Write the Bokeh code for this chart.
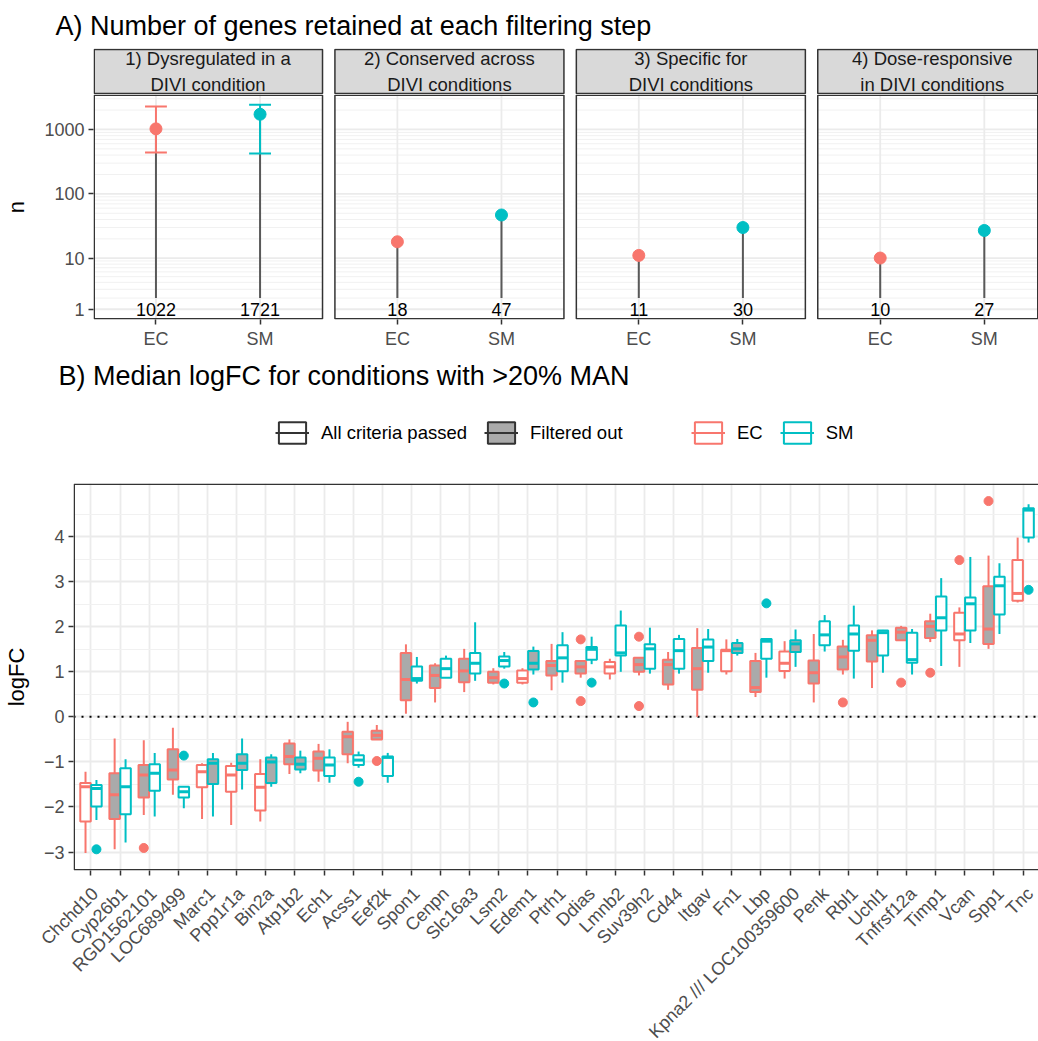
import numpy as np
import math
from bokeh.plotting import figure
from bokeh.models import Range1d, FixedTicker, Title, Legend, LegendItem, Span
from bokeh.layouts import column
from bokeh.core.properties import value
from bokeh.embed import file_html
from bokeh.resources import INLINE

FONT = "Liberation Sans"
EC_COL = "#F8766D"
SM_COL = "#00BFC4"
GRID = "#EBEBEB"
GRID_MINOR = "#F1F1F1"
BORDER = "#333333"
TICKTXT = "#4D4D4D"
FILL_OUT = "#AAAAAA"

# ---------------- Panel A data ----------------
steps = ["1) Dysregulated in a\nDIVI condition",
         "2) Conserved across\nDIVI conditions",
         "3) Specific for\nDIVI conditions",
         "4) Dose-responsive\nin DIVI conditions"]
groups = ["EC", "SM"]
n_EC = [1022, 18, 11, 10]
n_SM = [1721, 47, 30, 27]
err_step = [0]
err_EC_low = [440]
err_EC_high = [2280]
err_SM_low = [425]
err_SM_high = [2420]
a_yticks = [1, 10, 100, 1000]

# ---------------- Panel B data ----------------
genes = ["Chchd10", "Cyp26b1", "RGD1562101", "LOC689499", "Marc1", "Ppp1r1a",
         "Bin2a", "Atp1b2", "Ech1", "Acss1", "Eef2k", "Spon1", "Cenpn", "Slc16a3",
         "Lsm2", "Edem1", "Ptrh1", "Ddias", "Lmnb2", "Suv39h2", "Cd44", "Itgav",
         "Fn1", "Lbp", "Kpna2 /// LOC100359600", "Penk", "Rbl1", "Uchl1",
         "Tnfrsf12a", "Timp1", "Vcan", "Spp1", "Tnc"]

EC_lower = [-3.02, -2.94, -2.18, -1.73, -2.27, -2.40, -2.32, -1.27, -1.44, -1.03, -0.50,
            0.07, 0.32, 0.55, 0.72, 0.72, 0.59, 0.87, 0.83, 0.92, 0.60, 0.00,
            0.94, 0.44, 0.85, 0.32, 0.94, 0.64, 1.70, 1.66, 1.11, 1.51, 2.54]
EC_q1 = [-2.32, -2.27, -1.79, -1.39, -1.56, -1.66, -2.08, -1.05, -1.19, -0.83, -0.50,
         0.37, 0.64, 0.77, 0.76, 0.76, 0.92, 0.96, 0.96, 1.00, 0.72, 0.60,
         1.01, 0.55, 1.02, 0.74, 1.05, 1.23, 1.70, 1.75, 1.70, 1.62, 2.58]
EC_median = [-1.55, -1.73, -1.29, -1.18, -1.22, -1.29, -1.56, -0.88, -0.92, -0.44, -0.41,
             0.83, 0.92, 1.02, 0.87, 0.85, 1.14, 1.11, 1.11, 1.16, 1.16, 1.07,
             1.47, 0.65, 1.19, 0.98, 1.33, 1.70, 1.88, 2.01, 1.84, 1.95, 2.74]
EC_q3 = [-1.47, -1.25, -1.07, -0.72, -1.07, -1.09, -1.27, -0.59, -0.77, -0.33, -0.31,
         1.42, 1.14, 1.29, 1.00, 1.03, 1.24, 1.24, 1.22, 1.31, 1.27, 1.53,
         1.49, 1.24, 1.45, 1.25, 1.56, 1.81, 1.98, 2.12, 2.31, 2.90, 3.48]
EC_upper = [-1.22, -0.48, -0.52, -0.24, -1.03, -1.02, -0.94, -0.50, -0.60, -0.11, -0.18,
            1.61, 1.19, 1.51, 1.08, 1.08, 1.62, 1.24, 1.29, 1.31, 1.44, 1.97,
            1.72, 1.42, 1.68, 1.84, 1.71, 1.92, 2.02, 2.29, 2.43, 3.58, 3.98]
EC_filtered = [0, 1, 1, 1, 0, 0, 0, 1, 1, 1, 1,
               1, 1, 1, 1, 0, 1, 1, 0, 1, 1, 1,
               0, 1, 0, 1, 1, 1, 1, 1, 0, 1, 0]
EC_out_gene = ["RGD1562101", "Eef2k", "Ddias", "Ddias", "Suv39h2", "Suv39h2",
               "Rbl1", "Tnfrsf12a", "Timp1", "Vcan", "Spp1"]
EC_out_val = [-2.91, -0.98, 1.72, 0.35, 1.78, 0.24, 0.32, 0.76, 0.98, 3.48, 4.79]

SM_lower = [-2.29, -2.79, -2.21, -2.03, -2.21, -1.61, -1.55, -1.25, -1.46, -1.13, -1.46,
            0.74, 0.87, 0.80, 1.07, 0.94, 0.76, 1.17, 1.00, 0.96, 0.96, 0.98,
            1.36, 0.87, 1.11, 1.45, 0.85, 0.98, 0.94, 1.13, 1.64, 1.84, 3.87]
SM_q1 = [-1.99, -2.16, -1.64, -1.79, -1.49, -1.18, -1.47, -1.17, -1.31, -1.07, -1.31,
         0.80, 0.87, 0.96, 1.12, 1.05, 1.01, 1.27, 1.36, 1.07, 1.07, 1.24,
         1.42, 1.29, 1.44, 1.59, 1.47, 1.36, 1.20, 1.92, 1.92, 2.27, 3.98]
SM_median = [-1.59, -1.55, -1.25, -1.66, -1.03, -1.03, -1.00, -1.05, -1.07, -0.96, -0.90,
             0.85, 1.07, 1.19, 1.25, 1.19, 1.31, 1.50, 1.42, 1.51, 1.47, 1.55,
             1.51, 1.68, 1.62, 1.82, 1.84, 1.87, 1.27, 2.20, 2.51, 2.91, 4.59]
SM_q3 = [-1.51, -1.14, -1.05, -1.55, -0.94, -0.83, -0.90, -0.90, -0.90, -0.85, -0.88,
         1.12, 1.29, 1.42, 1.34, 1.46, 1.59, 1.55, 2.03, 1.61, 1.73, 1.72,
         1.64, 1.73, 1.70, 2.12, 2.03, 1.92, 1.87, 2.67, 2.65, 3.11, 4.63]
SM_upper = [-1.40, -0.94, -0.80, -1.55, -0.80, -0.48, -0.83, -0.75, -0.72, -0.77, -0.80,
            1.33, 1.36, 2.10, 1.44, 1.56, 1.88, 1.78, 2.36, 1.98, 1.82, 1.95,
            1.73, 1.75, 1.94, 2.26, 2.47, 1.93, 1.95, 3.08, 3.55, 3.41, 4.72]
SM_filtered = [0, 0, 0, 0, 1, 1, 1, 1, 0, 0, 0,
               0, 0, 0, 0, 1, 0, 0, 0, 0, 0, 0,
               1, 0, 1, 0, 0, 0, 0, 0, 0, 0, 0]
SM_out_gene = ["Chchd10", "LOC689499", "Acss1", "Lsm2", "Edem1", "Ddias", "Lbp", "Tnc"]
SM_out_val = [-2.94, -0.86, -1.44, 0.74, 0.32, 0.76, 2.52, 2.82]

b_yticks = [-3, -2, -1, 0, 1, 2, 3, 4]
legend_fill_labels = ["All criteria passed", "Filtered out"]


def plog(v):
    """pseudo-log (base 10) transform used by the n axis"""
    return np.arcsinh(np.asarray(v, dtype=float) / 2.0) / np.log(10.0)


def no_align(p):
    try:
        p.frame_align = False
    except Exception:
        pass
    return p


def style_axis(ax, size="18px"):
    ax.major_label_text_font = FONT
    ax.major_label_text_font_size = size
    ax.major_label_text_color = TICKTXT
    ax.major_tick_line_color = BORDER
    ax.major_tick_line_width = 1.5
    ax.major_tick_out = 5
    ax.major_tick_in = 0
    ax.minor_tick_line_color = None
    ax.axis_line_color = None
    ax.axis_label_text_font = FONT
    ax.axis_label_text_font_size = "22px"
    ax.axis_label_text_font_style = "normal"
    ax.axis_label_text_color = "black"
    ax.major_label_standoff = 4


W = 1038
COMMON = dict(output_backend="svg", toolbar_location=None, min_border_right=0)

# ======================= Panel A =======================
PX_A = 104.1
GAP_U = 12.4 / PX_A
D = 2.2 + GAP_U
A_LEFT = 93
A_FRAME_W = W - A_LEFT
xa_end = 0.4 + A_FRAME_W / PX_A
xa = Range1d(0.4, xa_end)
eps_xa = 0.75 / PX_A

nf = len(steps)
facet_left = [max(0.4 + k * D, 0.4 + eps_xa) for k in range(nf)]
facet_right = [min(2.6 + k * D, xa_end - eps_xa) for k in range(nf)]
facet_center = [1.5 + k * D for k in range(nf)]
pos_EC = [round(1 + k * D, 4) for k in range(nf)]
pos_SM = [round(2 + k * D, 4) for k in range(nf)]

# strip figure (with main title A)
ps = no_align(figure(width=W, height=94, x_range=xa, y_range=Range1d(-0.025, 1.025),
                     x_axis_location=None, y_axis_location=None, title_location=None,
                     min_border_left=A_LEFT, min_border_top=48, min_border_bottom=0, **COMMON))
ps.xgrid.visible = False
ps.ygrid.visible = False
ps.outline_line_color = None
ps.quad(left=facet_left, right=facet_right, bottom=0, top=1,
        fill_color="#D9D9D9", line_color=BORDER, line_width=1.5)
ps.text(x=facet_center, y=0.5, text=steps, text_font=value(FONT), text_font_size="18.5px",
        text_align="center", text_baseline="middle", text_color="#1A1A1A", text_line_height=1.25)
ps.add_layout(Title(text="A) Number of genes retained at each filtering step", text_font=FONT,
                    text_font_size="27px", text_font_style="normal", text_color="black",
                    align="left", offset=-38, standoff=15), "above")

# lollipop panels
ya_lo = float(plog(1))
ya_hi = float(plog(max(err_EC_high + err_SM_high + n_EC + n_SM)))
pad_a = 0.05 * (ya_hi - ya_lo)
ya = Range1d(ya_lo - pad_a, ya_hi + pad_a)
A_FRAME_H = 225
eps_ya = 0.75 * (ya.end - ya.start) / A_FRAME_H

pa = no_align(figure(width=W, height=A_FRAME_H + 34, x_range=xa, y_range=ya, title_location=None,
                     min_border_left=A_LEFT, min_border_top=0, min_border_bottom=34, **COMMON))
pa.xgrid.visible = False
pa.ygrid.visible = False
pa.outline_line_color = None

# manual per-facet grids
minor_vals = [k * 10 ** j for j in range(0, 4) for k in range(2, 10)
              if plog(k * 10 ** j) < ya.end]
for vals, col, lw in [(minor_vals, GRID_MINOR, 1), (a_yticks, GRID, 1.8)]:
    gx0, gx1, gy = [], [], []
    for k in range(nf):
        for v in vals:
            gx0.append(facet_left[k]); gx1.append(facet_right[k]); gy.append(float(plog(v)))
    pa.segment(x0=gx0, x1=gx1, y0=gy, y1=gy, line_color=col, line_width=lw)
vx = pos_EC + pos_SM
pa.segment(x0=vx, x1=vx, y0=ya.start, y1=ya.end, line_color=GRID, line_width=1.8)

# lollipop stems
stem_base = float(plog(2))
pa.segment(x0=pos_EC, x1=pos_EC, y0=stem_base, y1=plog(n_EC), line_color="#595959", line_width=2)
pa.segment(x0=pos_SM, x1=pos_SM, y0=stem_base, y1=plog(n_SM), line_color="#595959", line_width=2)

# error bars
cap = 0.105
for pos, lo, hi, col in [(pos_EC, err_EC_low, err_EC_high, EC_COL),
                         (pos_SM, err_SM_low, err_SM_high, SM_COL)]:
    ex = [pos[s] for s in err_step]
    pa.segment(x0=ex, x1=ex, y0=plog(lo), y1=plog(hi), line_color=col, line_width=2)
    pa.segment(x0=[x - cap for x in ex], x1=[x + cap for x in ex], y0=plog(lo), y1=plog(lo),
               line_color=col, line_width=2)
    pa.segment(x0=[x - cap for x in ex], x1=[x + cap for x in ex], y0=plog(hi), y1=plog(hi),
               line_color=col, line_width=2)

pa.scatter(x=pos_EC, y=plog(n_EC), size=12, fill_color=EC_COL, line_color=EC_COL)
pa.scatter(x=pos_SM, y=plog(n_SM), size=12, fill_color=SM_COL, line_color=SM_COL)

pa.text(x=pos_EC + pos_SM, y=ya_lo, text=[str(v) for v in n_EC + n_SM], text_font=value(FONT),
        text_font_size="18px", text_align="center", text_baseline="middle", text_color="black")

# panel borders
pa.quad(left=facet_left, right=facet_right, bottom=ya.start + eps_ya, top=ya.end - eps_ya,
        fill_alpha=0, line_color=BORDER, line_width=1.5)

pa.xaxis.ticker = FixedTicker(ticks=pos_EC + pos_SM)
ov = {}
for p_ in pos_EC:
    ov[p_] = groups[0]
for p_ in pos_SM:
    ov[p_] = groups[1]
pa.xaxis.major_label_overrides = ov
a_tick_pos = [round(float(plog(v)), 6) for v in a_yticks]
pa.yaxis.ticker = FixedTicker(ticks=a_tick_pos)
pa.yaxis.major_label_overrides = {tp: str(v) for tp, v in zip(a_tick_pos, a_yticks)}
pa.yaxis.axis_label = "n"
style_axis(pa.xaxis[0])
style_axis(pa.yaxis[0])
pa.yaxis.axis_label_standoff = 12

# ======================= Panel B title + legend =======================
B_LEFT = 70
B_FRAME_W = W - B_LEFT
L_TOP = 42
L_FRAME_H = 76
pl = no_align(figure(width=W, height=L_TOP + L_FRAME_H, x_range=Range1d(0, 1), y_range=Range1d(0, 1),
                     x_axis_location=None, y_axis_location=None, title_location=None,
                     min_border_left=B_LEFT, min_border_top=L_TOP, min_border_bottom=0, **COMMON))
pl.xgrid.visible = False
pl.ygrid.visible = False
pl.outline_line_color = None
pl.add_layout(Title(text="B) Median logFC for conditions with >20% MAN", text_font=FONT,
                    text_font_size="27px", text_font_style="normal", text_color="black",
                    align="left", offset=-12, standoff=9), "above")

# legend proxies (placed outside the visible ranges; only their legend keys show)
def key(fig, fill, line):
    rb = fig.quad(left=[-3], right=[-2], top=[-2], bottom=[-3], fill_color=fill,
                  line_color=line, line_width=2)
    rm = fig.segment(x0=[-3], x1=[-2], y0=[-3], y1=[-3], line_color=line, line_width=2)
    return [rb, rm]

legend_kw = dict(orientation="horizontal", glyph_width=34, glyph_height=27, label_standoff=12,
                 spacing=17, padding=4, margin=0, label_text_font=FONT,
                 label_text_font_size="18.5px", label_text_color="black",
                 border_line_color=None, background_fill_alpha=0)
leg1 = Legend(items=[LegendItem(label=legend_fill_labels[0], renderers=key(pl, "white", BORDER)),
                     LegendItem(label=legend_fill_labels[1], renderers=key(pl, FILL_OUT, BORDER))],
              location=(205, 25), **legend_kw)
leg2 = Legend(items=[LegendItem(label=groups[0], renderers=key(pl, "white", EC_COL)),
                     LegendItem(label=groups[1], renderers=key(pl, "white", SM_COL))],
              location=(621, 25), **legend_kw)
pl.add_layout(leg1)
pl.add_layout(leg2)

# ======================= Panel B boxplots =======================
ng = len(genes)
gx = [i + 1 for i in range(ng)]
off = 0.1875
bw = 0.36
x_EC = [x - off for x in gx]
x_SM = [x + off for x in gx]

all_b = EC_lower + EC_upper + SM_lower + SM_upper + EC_out_val + SM_out_val
yb_lo, yb_hi = min(all_b), max(all_b)
pad_b = 0.05 * (yb_hi - yb_lo)
yb = Range1d(yb_lo - pad_b, yb_hi + pad_b)
B_FRAME_H = 387
B_TOP = 12
B_BOTTOM = 10
PX_B = 29.22
xb = Range1d(0.4, 0.4 + B_FRAME_W / PX_B)
eps_yb = 0.75 * (yb.end - yb.start) / B_FRAME_H
eps_xb = 0.75 / PX_B

pb = no_align(figure(width=W, height=B_TOP + B_FRAME_H + B_BOTTOM, x_range=xb, y_range=yb,
                     title_location=None, min_border_left=B_LEFT, min_border_top=B_TOP,
                     min_border_bottom=B_BOTTOM, **COMMON))
pb.outline_line_color = None
xtick = FixedTicker(ticks=gx)
ytick = FixedTicker(ticks=b_yticks, minor_ticks=[t + 0.5 for t in range(-4, 5)])
pb.xaxis.ticker = xtick
pb.xgrid.ticker = xtick
pb.yaxis.ticker = ytick
pb.ygrid.ticker = ytick
pb.xgrid.grid_line_color = GRID
pb.xgrid.grid_line_width = 1.8
pb.ygrid.grid_line_color = GRID
pb.ygrid.grid_line_width = 1.8
pb.ygrid.minor_grid_line_color = GRID_MINOR
pb.ygrid.minor_grid_line_width = 1.2
# gene names are drawn (rotated, ggplot-style anchoring) in the label figure below
pb.xaxis.major_label_overrides = {x: "" for x in gx}
pb.yaxis.major_label_overrides = {t: (("\u2212" + str(-t)) if t < 0 else str(t)) for t in b_yticks}
pb.yaxis.axis_label = "logFC"
style_axis(pb.xaxis[0], "18px")
style_axis(pb.yaxis[0], "18px")
pb.xaxis.major_label_standoff = 0
pb.yaxis.axis_label_standoff = 12

pb.add_layout(Span(location=0, dimension="width", line_color="black", line_width=2,
                   line_dash="2 6", level="underlay"))

for xs, lo, q1, md, q3, hi, filt, col in [
        (x_EC, EC_lower, EC_q1, EC_median, EC_q3, EC_upper, EC_filtered, EC_COL),
        (x_SM, SM_lower, SM_q1, SM_median, SM_q3, SM_upper, SM_filtered, SM_COL)]:
    pb.segment(x0=xs, x1=xs, y0=lo, y1=hi, line_color=col, line_width=2)
    pb.vbar(x=xs, width=bw, bottom=q1, top=q3,
            fill_color=[FILL_OUT if f else "white" for f in filt], line_color=col, line_width=2)
    pb.segment(x0=[x - bw / 2 for x in xs], x1=[x + bw / 2 for x in xs], y0=md, y1=md,
               line_color=col, line_width=3)

pb.scatter(x=[gx[genes.index(g)] - off for g in EC_out_gene], y=EC_out_val, size=9,
           fill_color=EC_COL, line_color=EC_COL)
pb.scatter(x=[gx[genes.index(g)] + off for g in SM_out_gene], y=SM_out_val, size=9,
           fill_color=SM_COL, line_color=SM_COL)

# panel border (right side falls outside the visible frame)
pb.quad(left=xb.start + eps_xb, right=xb.end + 1, bottom=yb.start + eps_yb, top=yb.end - eps_yb,
        fill_alpha=0, line_color=BORDER, line_width=1.5)

# ======================= gene-name labels (x axis text of panel B) =======================
X_H = 1041 - (94 + A_FRAME_H + 34 + L_TOP + L_FRAME_H + B_TOP + B_FRAME_H + B_BOTTOM)
pxl = no_align(figure(width=W, height=X_H,
                      x_range=Range1d(xb.start - B_LEFT / PX_B, xb.end), y_range=Range1d(0, 1),
                      x_axis_location=None, y_axis_location=None, title_location=None,
                      min_border_left=0, min_border_top=0, min_border_bottom=0, **COMMON))
pxl.xgrid.visible = False
pxl.ygrid.visible = False
pxl.outline_line_color = None
pxl.text(x=gx, y=1, text=genes, angle=math.pi / 4, text_align="right", text_baseline="top",
         y_offset=3, text_font=value(FONT), text_font_size="18px", text_color=TICKTXT)

layout = column(ps, pa, pl, pb, pxl, spacing=0)
open("out.html", "w").write(file_html(layout, INLINE))
